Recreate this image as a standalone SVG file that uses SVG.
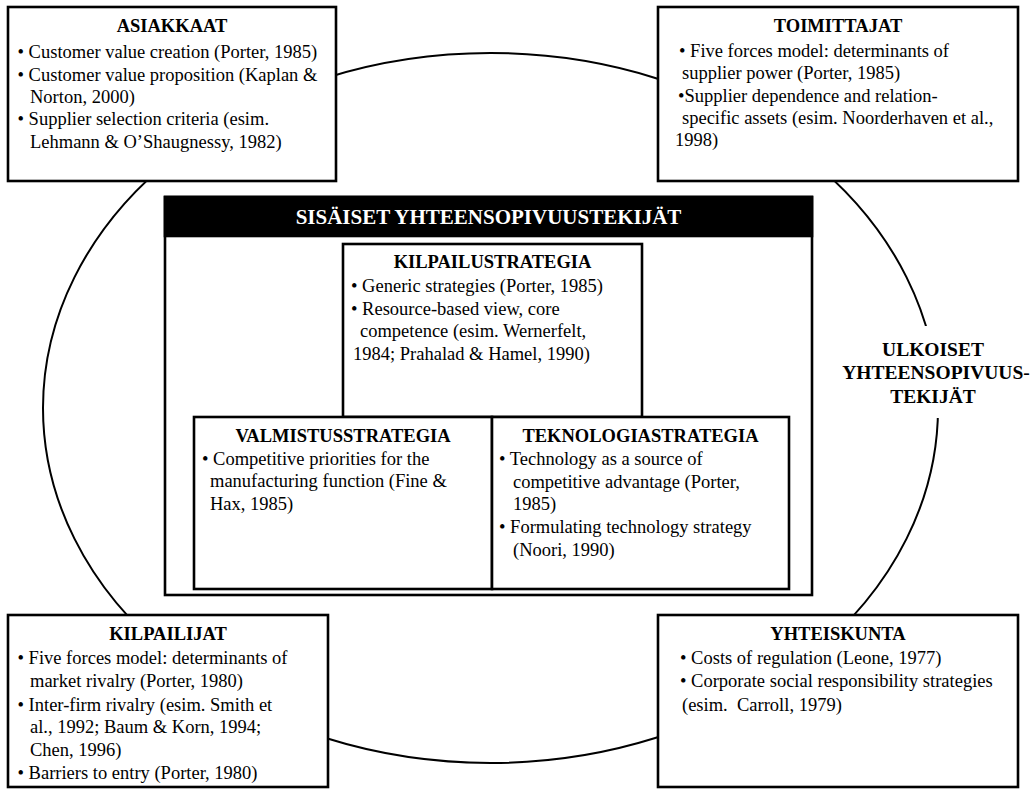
<svg xmlns="http://www.w3.org/2000/svg" width="1032" height="789" viewBox="0 0 1032 789">
<style>
text{font-family:'Liberation Serif','Times New Roman',Tinos,'DejaVu Serif',serif;fill:#000}
.b{font-size:18.5px}
.h{font-size:18.5px;font-weight:bold;text-anchor:middle}
.box{fill:#fff;stroke:#000;stroke-width:2.6}
.ring{fill:none;stroke:#000;stroke-width:2}
.lab{font-size:19.5px;font-weight:bold;text-anchor:middle}
</style>
<rect width="1032" height="789" fill="#fff"/>
<g id="connectors">
<ellipse class="ring" cx="490.5" cy="408" rx="447.5" ry="355"/>
</g>
<g id="ulkoiset">
<rect x="845" y="326" width="185" height="92" fill="#fff"/>
<text class="lab" x="933" y="356">ULKOISET</text>
<text class="lab" x="936" y="379">YHTEENSOPIVUUS-</text>
<text class="lab" x="933" y="403">TEKIJÄT</text>
</g>
<g id="asiakkaat">
<rect class="box" x="8" y="7" width="328" height="174"/>
<text class="h" x="172" y="32">ASIAKKAAT</text>
<text class="b" x="17.5" y="58">• Customer value creation (Porter, 1985)</text>
<text class="b" x="17.5" y="81">• Customer value proposition (Kaplan &amp;</text>
<text class="b" x="30" y="103">Norton, 2000)</text>
<text class="b" x="17.5" y="125">• Supplier selection criteria (esim.</text>
<text class="b" x="30" y="148">Lehmann &amp; O’Shaugnessy, 1982)</text>
</g>
<g id="toimittajat">
<rect class="box" x="658" y="7" width="360" height="174"/>
<text class="h" x="838" y="32">TOIMITTAJAT</text>
<text class="b" x="679" y="57">• Five forces model: determinants of</text>
<text class="b" x="682" y="79">supplier power (Porter, 1985)</text>
<text class="b" x="678" y="102">•Supplier dependence and relation-</text>
<text class="b" x="682" y="124">specific assets (esim. Noorderhaven et al.,</text>
<text class="b" x="675" y="146">1998)</text>
</g>
<g id="sisaiset">
<rect class="box" x="165" y="197" width="647" height="398"/>
<rect x="165" y="197" width="647" height="39" fill="#000" stroke="#000" stroke-width="2.6"/>
<text x="488.5" y="224" style="font-size:21px;font-weight:bold;text-anchor:middle;fill:#fff">SISÄISET YHTEENSOPIVUUSTEKIJÄT</text>
</g>
<g id="kilpailustrategia">
<rect class="box" x="343" y="244" width="299" height="173"/>
<text class="h" x="492.5" y="268">KILPAILUSTRATEGIA</text>
<text class="b" x="351" y="292">• Generic strategies (Porter, 1985)</text>
<text class="b" x="351" y="315">• Resource-based view, core</text>
<text class="b" x="360" y="337">competence (esim. Wernerfelt,</text>
<text class="b" x="353" y="360">1984; Prahalad &amp; Hamel, 1990)</text>
</g>
<g id="valmistusstrategia">
<rect class="box" x="194" y="417" width="298" height="172"/>
<text class="h" x="343" y="442">VALMISTUSSTRATEGIA</text>
<text class="b" x="202" y="465">• Competitive priorities for the</text>
<text class="b" x="210" y="487">manufacturing function (Fine &amp;</text>
<text class="b" x="210" y="510">Hax, 1985)</text>
</g>
<g id="teknologiastrategia">
<rect class="box" x="492" y="417" width="297" height="172"/>
<text class="h" x="640.5" y="442">TEKNOLOGIASTRATEGIA</text>
<text class="b" x="499" y="465">• Technology as a source of</text>
<text class="b" x="513" y="488">competitive advantage (Porter,</text>
<text class="b" x="513" y="510">1985)</text>
<text class="b" x="499" y="533">• Formulating technology strategy</text>
<text class="b" x="513" y="556">(Noori, 1990)</text>
</g>
<g id="kilpailijat">
<rect class="box" x="8" y="615" width="320" height="172"/>
<text class="h" x="168" y="640">KILPAILIJAT</text>
<text class="b" x="17.5" y="664">• Five forces model: determinants of</text>
<text class="b" x="30" y="687">market rivalry (Porter, 1980)</text>
<text class="b" x="17.5" y="711">• Inter-firm rivalry (esim. Smith et</text>
<text class="b" x="30" y="733">al., 1992; Baum &amp; Korn, 1994;</text>
<text class="b" x="30" y="756">Chen, 1996)</text>
<text class="b" x="17.5" y="779">• Barriers to entry (Porter, 1980)</text>
</g>
<g id="yhteiskunta">
<rect class="box" x="658" y="615" width="360" height="172"/>
<text class="h" x="838" y="640">YHTEISKUNTA</text>
<text class="b" x="680" y="664">• Costs of regulation (Leone, 1977)</text>
<text class="b" x="680" y="687">• Corporate social responsibility strategies</text>
<text class="b" x="682" y="711">(esim.&#160; Carroll, 1979)</text>
</g>
</svg>
